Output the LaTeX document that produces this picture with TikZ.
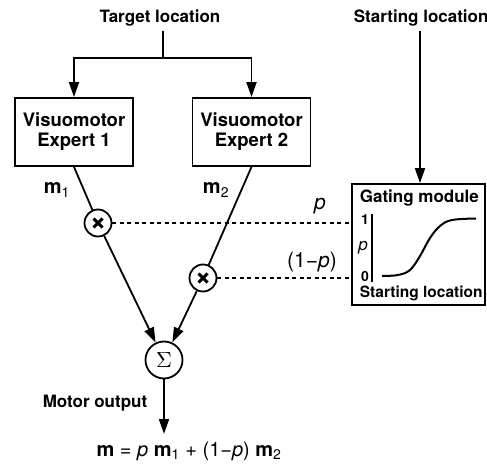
\documentclass[tikz,border=0pt]{standalone}
\usepackage{fontspec}
\setmainfont{TeX Gyre Heros}
\usetikzlibrary{arrows.meta}

\begin{document}
\begin{tikzpicture}[x=1pt, y=-1pt, line width=1.8pt,
    lbl/.style={font=\fontsize{17}{19}\selectfont\bfseries, inner sep=1pt},
    expert/.style={draw, minimum width=118pt, minimum height=68pt, align=center,
      font=\fontsize{18.5}{20}\selectfont\bfseries},
    mult/.style={draw, circle, minimum size=27pt, inner sep=0pt,
      path picture={\draw[line width=3pt]
        ([shift={(-4.5pt,-4.5pt)}]path picture bounding box.center) -- ++(9pt,9pt)
        ([shift={(-4.5pt,4.5pt)}]path picture bounding box.center) -- ++(9pt,-9pt);}},
    arr/.style={-{Triangle[length=15pt, width=10pt]}},
    gate/.style={dash pattern=on 4pt off 3.5pt}]
  \useasboundingbox (0,0) rectangle (487,465);

  % inputs
  \node[lbl] (target) at (160,18) {Target location};
  \node[lbl, anchor=west] (start) at (352,18) {Starting location};
  \coordinate (split) at (163,58);

  % experts
  \node[expert] (exp1) at (74,132) {Visuomotor\\Expert 1};
  \node[expert] (exp2) at (251.5,132) {Visuomotor\\Expert 2};
  \draw (163,31) -- (split);
  \draw[arr] (split) -| (exp1.north);
  \draw[arr] (split) -| (exp2.north);

  % gating module
  \node[draw, minimum width=133pt, minimum height=121pt] (gm) at (418.5,244.5) {};
  \draw[arr] (420,31) -- (gm.north -| 420,0);
  \node[lbl, anchor=west] (gmtitle) at (358,198) {Gating module};
  \node[font=\fontsize{15.5}{17}\selectfont\bfseries, anchor=west, inner sep=1pt] (gmaxis) at (358,293) {Starting location};
  \draw (372,214) -- (372,282);
  \node[font=\fontsize{14}{16}\selectfont\bfseries, inner sep=0pt] (one) at (365,220) {1};
  \node[font=\fontsize{14}{16}\selectfont\bfseries, inner sep=0pt] (zero) at (365,276) {0};
  \node[font=\fontsize{17}{18}\selectfont\itshape, inner sep=0pt] (pax) at (363,248) {p};
  \draw[line width=2pt] plot[smooth, tension=0.6] coordinates {(382,276) (398,275) (410,270) (420,256) (430,238) (440,226) (452,220) (476,218.5)};

  % mixing
  \node[mult] (mul1) at (98,223) {};
  \node[mult] (mul2) at (203,278) {};
  \node[draw, circle, minimum size=37pt, inner sep=0pt] (sum) at (164,360) {\resizebox{!}{15pt}{$\Sigma$}};
  \coordinate (out) at (164,434);

  \draw (exp1.south) -- (mul1);
  \draw (exp2.south) -- (mul2);
  \draw[arr] (mul1) -- (sum);
  \draw[arr] (mul2) -- (sum);
  \draw[arr] (sum) -- (out);
  \draw[gate] (mul1.east) -- (mul1.east -| gm.west);
  \draw[gate] (mul2.east) -- (mul2.east -| gm.west);

  \node[font=\fontsize{20}{22}\selectfont, inner sep=0pt] (m1) at (57,190) {\textbf{m}\textsubscript{1}};
  \node[font=\fontsize{20}{22}\selectfont, inner sep=0pt] (m2) at (216,190) {\textbf{m}\textsubscript{2}};
  \node[font=\fontsize{21}{22}\selectfont\itshape, inner sep=0pt] (plbl) at (320,206) {p};
  \node[font=\fontsize{21}{22}\selectfont, inner sep=0pt] (qlbl) at (312,262) {(1−\textit{p})};

  % output
  \node[lbl] (motor) at (95,403) {Motor output};
  \node[font=\fontsize{20}{22}\selectfont, inner sep=0pt] (formula) at (189,451)
    {\textbf{m} = \textit{p} \textbf{m}\textsubscript{1} + (1−\textit{p}) \textbf{m}\textsubscript{2}};
\end{tikzpicture}
\end{document}
